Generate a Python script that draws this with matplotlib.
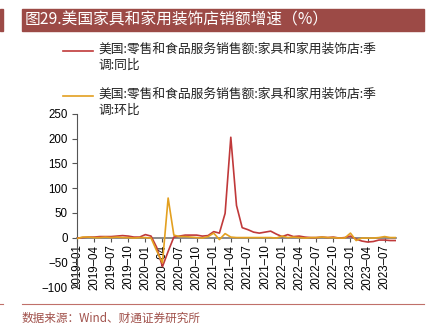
import pandas as pd
import matplotlib.pyplot as plt
from matplotlib.patches import Rectangle
from matplotlib.lines import Line2D

plt.rcParams['font.family'] = ['Liberation Sans', 'Noto Sans CJK SC', 'DejaVu Sans']

months = pd.date_range('2019-01', '2023-09', freq='MS').strftime('%Y–%m').tolist()

# 同比 (YoY, %)
yoy = [-1, 0, 1, 1, 2, 2, 2, 3, 4, 3, 1, 1,
       6, 3, -20, -59, -28, 1, 3, 5, 5, 5, 3, 4,
       12, 9, 49, 203, 65, 20, 16, 11, 9, 11, 13, 7,
       2, 6, 2, 3, 1, 0, 0, 1, 0, 1, -1, 0,
       3, -3, -7, -9, -8, -5, -5, -6, -6]

# 环比 (MoM, %)
mom = [-2, 1, 1, 0, 0, 1, 0, 1, 0, 0, -1, 0,
       0, -1, -27, -51, 80, 5, 2, 2, 1, 0, -1, 2,
       9, -4, 8, 1, 0, 0, 0, 0, 0, 0, 0, -1,
       3, 0, 1, 0, -1, 0, 0, 1, 0, 0, -1, -1,
       9, -6, -1, -1, -1, 0, 2, 0, 0]

yticks = [-100, -50, 0, 50, 100, 150, 200, 250]

label_yoy = '美国:零售和食品服务销售额:家具和家用装饰店:季\n调:同比'
label_mom = '美国:零售和食品服务销售额:家具和家用装饰店:季\n调:环比'

red = '#C0393A'
orange = '#E3A020'
banner = '#9C4A46'
cjk = ['Noto Sans CJK SC', 'DejaVu Sans']

fig = plt.figure(figsize=(4.27, 3.32), dpi=100)

# title banner
fig.patches.append(Rectangle((22 / 427, 1 - 31 / 332), 402 / 427, 22 / 332,
                             transform=fig.transFigure, color=banner, zorder=0))
fig.patches.append(Rectangle((0, 1 - 31 / 332), 3 / 427, 22 / 332,
                             transform=fig.transFigure, color=banner, zorder=0))
fig.text(25 / 427, 1 - 20 / 332, '图29.美国家具和家用装饰店销额增速（%）',
         color='white', fontsize=11.3, va='center', ha='left', family=cjk)

ax = fig.add_axes([77 / 427, 1 - 287 / 332, (396 - 77) / 427, (287 - 114) / 332])
# x axis line sits on zero (set before tick styling, it resets the ticks)
ax.spines['bottom'].set_position(('data', 0))
ax.spines['bottom'].set_color('#777777')
ax.spines['bottom'].set_linewidth(1.2)
for s in ['top', 'right']:
    ax.spines[s].set_visible(False)
ax.spines['left'].set_color('#555555')

x = range(len(months))
ax.plot(x, yoy, color=red, lw=1.2, label=label_yoy, zorder=3)
ax.plot(x, mom, color=orange, lw=1.2, label=label_mom, zorder=3)

ax.set_xlim(0, len(months) - 1)
ax.set_ylim(-100, 250)
ax.set_yticks(yticks)
ax.set_xticks(list(x)[::3])
ax.set_xticklabels(months[::3])
ax.tick_params(axis='y', labelsize=8.3, length=3.5, color='#555555', pad=3)
ax.tick_params(axis='x', labelsize=8.3, labelrotation=90, length=3,
               color='#555555', pad=2)

# legend above the plot
legend_y = [51, 96]
for (yy, c, lab) in zip(legend_y, [red, orange], [label_yoy, label_mom]):
    fig.add_artist(Line2D([63 / 427, 93 / 427], [1 - yy / 332] * 2,
                          transform=fig.transFigure, color=c, lw=1.2))
    fig.text(98 / 427, 1 - (yy - 8) / 332, lab, fontsize=9.2, va='top', ha='left',
             family=cjk, color='#222222', linespacing=1.3)

# footer
fig.add_artist(Line2D([22 / 427, 424 / 427], [1 - 304 / 332] * 2,
                      transform=fig.transFigure, color='#C0706A', lw=0.8))
fig.add_artist(Line2D([0, 3 / 427], [1 - 304 / 332] * 2,
                      transform=fig.transFigure, color='#C0706A', lw=0.8))
fig.text(22 / 427, 1 - 318 / 332, '数据来源：Wind、财通证券研究所', fontsize=8.4,
         color='#A0504A', va='center', ha='left', family=cjk)

fig.savefig('out.png', dpi=100)
